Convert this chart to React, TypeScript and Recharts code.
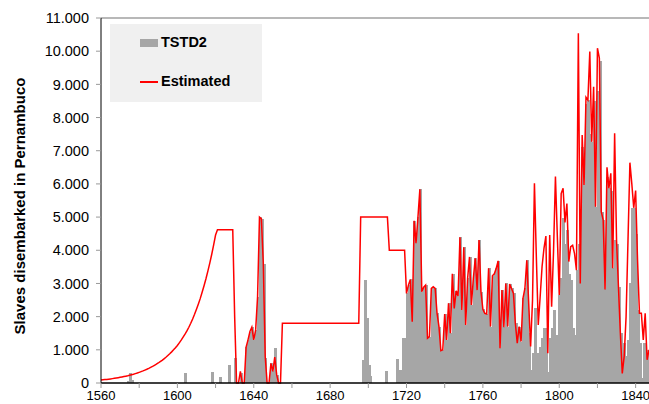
import { ComposedChart, Bar, Line, XAxis, YAxis, ReferenceLine, Legend } from "recharts";

// years on the axis
const firstYear = 1560;
const lastYear = 1847;
const years = Array.from({ length: lastYear - firstYear + 1 }, (_, i) => firstYear + i);

// Estimated series
const estimated1560to1659 = [
  90, 96, 102, 109, 116, 124, 132, 141, 150, 160,
  170, 181, 193, 206, 219, 234, 249, 265, 283, 301,
  321, 342, 364, 388, 413, 440, 469, 499, 532, 566,
  603, 643, 684, 729, 776, 827, 880, 938, 999, 1063,
  1130, 1210, 1290, 1380, 1470, 1570, 1680, 1800, 1930, 2070,
  2220, 2380, 2550, 2740, 2940, 3150, 3380, 3620, 3880, 4160,
  4460, 4620, 4620, 4620, 4620, 4620, 4620, 4620, 4620, 4620,
  2000, 0, 0, 350, 0, 0, 1080, 1300, 1550, 1680,
  1300, 1600, 2600, 5000, 4950, 3600, 800, 0, 0, 590,
  350, 780, 250, 0, 0, 1800, 1800, 1800, 1800, 1800,
];

const estimated1660to1719 = [
  1800, 1800, 1800, 1800, 1800, 1800, 1800, 1800, 1800, 1800,
  1800, 1800, 1800, 1800, 1800, 1800, 1800, 1800, 1800, 1800,
  1800, 1800, 1800, 1800, 1800, 1800, 1800, 1800, 1800, 1800,
  1800, 1800, 1800, 1800, 1800, 1800, 5000, 5000, 5000, 5000,
  5000, 5000, 5000, 5000, 5000, 5000, 5000, 5000, 5000, 5000,
  5000, 4000, 4000, 4000, 4000, 4000, 4000, 4000, 4000, 4000,
];

const estimated1720to1847 = [
  2700, 2950, 3120, 1850, 4890, 4210, 5000, 5840, 2750, 2890,
  2950, 1350, 1400, 2850, 2900, 2850, 2100, 1700, 975, 1000,
  2080, 1300, 2400, 1500, 3290, 2250, 2780, 2620, 4390, 2200,
  4090, 1750, 3150, 3800, 2350, 3150, 3760, 2800, 4310, 2750,
  2220, 2100, 2080, 3460, 1700, 3230, 3290, 3460, 3680, 1045,
  2800, 1680, 3000, 1700, 2980, 2850, 2700, 1800, 1200, 1700,
  1250, 2550, 2850, 3700, 2400, 1100, 2500, 6020, 3800, 1750,
  2600, 3510, 4060, 4430, 895, 4460, 2300, 3960, 6220, 4400,
  2650, 5710, 5870, 4840, 5410, 3660, 4110, 4150, 3900, 3400,
  10540, 3000, 7470, 5970, 8610, 8530, 9990, 7270, 8930, 5310,
  10090, 9790, 5160, 4910, 2820, 6500, 5870, 6320, 3460, 7530,
  4300, 2900, 1500, 290, 800, 2000, 4300, 6640, 6000, 5280,
  5800, 3700, 2100, 2100, 1300, 2100, 700, 1000,
];

// TSTD2 voyages before 1720 (year, slaves)
const tstd2Before1720: [number, number][] = [
  [1574, 60], [1575, 300], [1576, 80], [1604, 310], [1618, 330],
  [1622, 190], [1627, 540], [1630, 750], [1633, 310],
  [1636, 1080], [1637, 1300], [1638, 1550], [1639, 1680], [1640, 1300],
  [1641, 1600], [1642, 2600], [1643, 5000], [1644, 4950], [1645, 3600],
  [1646, 750], [1649, 590], [1650, 350], [1651, 1050], [1652, 250],
  [1697, 690], [1698, 3100], [1699, 1950], [1700, 540], [1701, 220],
  [1709, 370], [1715, 720], [1716, 380], [1717, 390], [1718, 1350], [1719, 1350],
];

const tstd2From1720 = [
  2700, 2950, 3120, 1850, 4890, 4210, 5000, 5840, 2750, 2890,
  2950, 1350, 1400, 2850, 2900, 2850, 2100, 1700, 975, 1000,
  2080, 1300, 2400, 1500, 3290, 2250, 2780, 2620, 4390, 2200,
  4090, 1750, 3150, 3800, 2350, 3150, 3760, 2800, 4310, 2750,
  2220, 2100, 2080, 3460, 1700, 3230, 3290, 3460, 3680, 1045,
  2800, 1680, 3000, 1700, 2980, 2850, 2700, 1800, 1200, 1700,
  1250, 2550, 2850, 3700, 1500, 400, 900, 2250, 900, 700,
  1100, 1350, 1650, 1650, 340, 1350, 1650, 2200, 1450, 1450,
  2650, 3150, 4970, 4200, 4600, 3300, 3100, 1650, 1450, 3400,
  4200, 3000, 7100, 5970, 8400, 8530, 7500, 7270, 8500, 5310,
  8800, 9700, 5160, 4910, 2820, 6200, 5870, 5800, 3460, 4300,
  4200, 2900, 1500, 290, 1200, 800, 1300, 3000, 5270, 5270,
  4500, 2200, 1200, 150, 1200, 300, 1000, 700,
];

const xTicks = [1560, 1580, 1600, 1620, 1640, 1660, 1680, 1700, 1720, 1740, 1760, 1780, 1800, 1820, 1840];
const yTicks = [0, 1000, 2000, 3000, 4000, 5000, 6000, 7000, 8000, 9000, 10000, 11000];

const estimated = [...estimated1560to1659, ...estimated1660to1719, ...estimated1720to1847];
const tstd2Map = new Map<number, number>(tstd2Before1720);
tstd2From1720.forEach((v, i) => tstd2Map.set(1720 + i, v));

const data = years.map((year, i) => ({
  year,
  estimated: estimated[i],
  tstd2: tstd2Map.get(year) ?? null,
}));

const font = "'Liberation Sans', Arial, sans-serif";

// one year is about 1.9px wide: snap each column to whole pixels, 3px wide, so neighbours overlap
const YearColumn = (props: any) => {
  const { x, y, width, height } = props;
  if (!height || height <= 0) return null;
  const cx = x + width / 2;
  return (
    <rect
      x={Math.round(cx - 1)}
      y={y}
      width={3}
      height={height}
      fill="#a6a6a6"
      stroke="none"
      shapeRendering="crispEdges"
    />
  );
};

const LegendBox = () => (
  <div
    style={{
      position: "relative",
      width: 152,
      height: 78,
      background: "#f0f0f0",
      fontFamily: font,
      fontWeight: "bold",
      fontSize: 14.5,
      color: "#000",
    }}
  >
    <div style={{ position: "absolute", left: 30, top: 15, width: 18, height: 8, background: "#a6a6a6" }} />
    <span style={{ position: "absolute", left: 51, top: 10 }}>TSTD2</span>
    <div style={{ position: "absolute", left: 30, top: 57, width: 18, height: 2, background: "#ff0000" }} />
    <span style={{ position: "absolute", left: 51, top: 49 }}>Estimated</span>
  </div>
);

const yLabel = () => (
  <text
    x={19}
    y={206}
    transform="rotate(-90 19 206)"
    textAnchor="middle"
    dominantBaseline="central"
    style={{ fontFamily: font, fontSize: 15, fontWeight: "bold", fill: "#000" }}
  >
    Slaves disembarked in Pernambuco
  </text>
);

export default function App() {
  return (
    <div style={{ position: "absolute", left: 0, top: 0, width: 649, height: 404, background: "#fff" }}>
      <ComposedChart
        width={649}
        height={404}
        data={data}
        margin={{ top: 18, right: 0, bottom: 1, left: 41 }}
      >
        <XAxis
          dataKey="year"
          type="number"
          domain={[1560, 1847]}
          ticks={xTicks}
          tickFormatter={(v: number) => (v % 40 === 0 ? String(v) : "")}
          height={20}
          tickSize={5}
          tickMargin={3}
          axisLine={{ stroke: "#000", strokeWidth: 1.5 }}
          tickLine={{ stroke: "#999" }}
          tick={{ fontSize: 13, fill: "#000", fontFamily: font }}
          allowDataOverflow
        />
        <YAxis
          type="number"
          domain={[0, 11000]}
          ticks={yTicks}
          width={60}
          tickSize={5}
          tickMargin={7}
          tickFormatter={(v: number) => (v === 0 ? "0" : `${v / 1000}.000`)}
          axisLine={{ stroke: "#000" }}
          tickLine={{ stroke: "#999" }}
          tick={{ fontSize: 14.5, fill: "#000", fontFamily: font }}
          label={yLabel}
        />
        <ReferenceLine y={11000} stroke="#a0a0a0" strokeWidth={1.5} />
        <Legend
          layout="horizontal"
          align="center"
          verticalAlign="middle"
          content={LegendBox}
          wrapperStyle={{ left: 110, top: 24, width: 152, height: 78 }}
        />
        <Bar
          dataKey="tstd2"
          name="TSTD2"
          fill="#a6a6a6"
          shape={YearColumn}
          isAnimationActive={false}
        />
        <Line
          dataKey="estimated"
          name="Estimated"
          type="linear"
          stroke="#ff0000"
          strokeWidth={1.5}
          dot={false}
          activeDot={false}
          isAnimationActive={false}
        />
      </ComposedChart>
    </div>
  );
}
